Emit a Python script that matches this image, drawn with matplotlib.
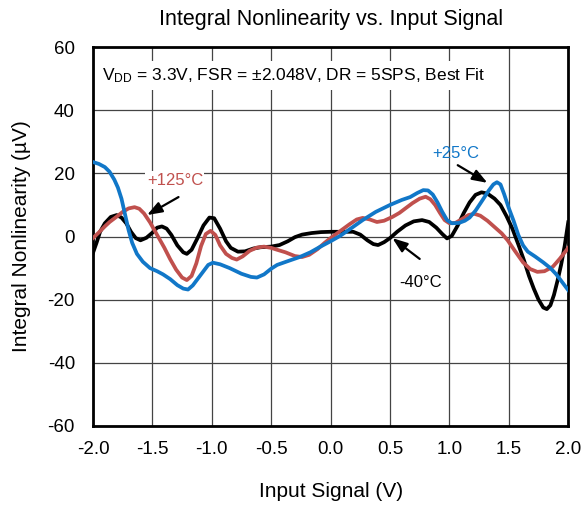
import matplotlib
matplotlib.use('Agg')
import matplotlib.pyplot as plt

plt.rcParams['font.family'] = ['Liberation Sans', 'DejaVu Sans']
plt.rcParams['mathtext.fontset'] = 'custom'
plt.rcParams['mathtext.rm'] = 'Liberation Sans'
plt.rcParams['mathtext.default'] = 'regular'
plt.rcParams['axes.unicode_minus'] = False

# +25°C
v_25 = [-2.0, -1.95, -1.90, -1.86, -1.82, -1.79, -1.76, -1.73, -1.70, -1.67, -1.63, -1.58,
        -1.52, -1.46, -1.41, -1.35, -1.29, -1.24, -1.20, -1.16, -1.12, -1.08, -1.03, -0.99,
        -0.93, -0.85, -0.75, -0.67, -0.62, -0.56, -0.50, -0.45, -0.36, -0.26, -0.17, -0.09,
        0.0, 0.08, 0.18, 0.27, 0.38, 0.50, 0.60, 0.67, 0.73, 0.78, 0.82, 0.86, 0.90, 0.94,
        0.98, 1.02, 1.08, 1.13, 1.17, 1.22, 1.28, 1.33, 1.37, 1.40, 1.43, 1.46, 1.50, 1.54,
        1.58, 1.62, 1.66, 1.72, 1.79, 1.85, 1.90, 1.95, 2.0]
inl_25 = [23.6, 23.0, 22.0, 20.5, 18.0, 15.5, 12.0, 7.0, 2.0, -2.0, -5.5, -8.0,
          -10.0, -11.0, -12.0, -13.5, -15.4, -16.5, -16.8, -15.5, -13.5, -11.5, -9.0, -8.3,
          -8.8, -10.0, -11.8, -12.8, -13.0, -12.0, -10.2, -9.0, -7.8, -6.5, -5.0, -3.3,
          -1.5, 0.2, 2.8, 5.2, 7.8, 10.0, 11.6, 12.5, 13.8, 14.7, 14.6, 13.3, 10.8, 7.8,
          5.2, 4.2, 4.3, 5.0, 6.0, 8.2, 11.6, 14.5, 16.5, 17.2, 16.5, 13.5, 9.0, 5.0,
          0.5, -2.8, -4.8, -6.3, -8.2, -10.0, -12.0, -14.5, -17.0]

# +125°C
v_125 = [-2.0, -1.95, -1.90, -1.86, -1.80, -1.75, -1.70, -1.65, -1.61, -1.57, -1.52, -1.46,
         -1.40, -1.35, -1.30, -1.25, -1.21, -1.17, -1.13, -1.09, -1.05, -1.01, -0.97, -0.93,
         -0.88, -0.83, -0.79, -0.74, -0.68, -0.62, -0.56, -0.50, -0.45, -0.38, -0.30, -0.24,
         -0.18, -0.11, -0.05, 0.0, 0.08, 0.16, 0.22, 0.27, 0.33, 0.39, 0.45, 0.52, 0.58, 0.64,
         0.69, 0.75, 0.80, 0.84, 0.88, 0.92, 0.96, 1.0, 1.05, 1.10, 1.16, 1.21, 1.26, 1.32,
         1.38, 1.44, 1.49, 1.55, 1.62, 1.68, 1.74, 1.80, 1.87, 1.93, 2.0]
inl_125 = [-0.5, 1.3, 3.2, 4.6, 6.3, 7.8, 8.9, 9.3, 8.8, 7.3, 4.5, 0.5,
           -3.5, -7.2, -10.5, -13.0, -13.8, -12.5, -8.5, -3.0, 0.8, 1.8, 0.5, -2.8,
           -5.5, -6.8, -7.3, -6.3, -4.5, -3.5, -3.2, -3.6, -4.2, -5.0, -6.2, -6.5,
           -5.8, -4.0, -2.0, -0.5, 1.7, 3.9, 5.4, 5.9, 5.4, 4.6, 5.0, 6.2, 7.5, 9.2,
           10.6, 12.0, 12.6, 11.8, 10.0, 7.5, 5.2, 4.2, 4.3, 5.4, 6.8, 7.2, 6.6, 5.0,
           3.0, 1.0, -1.2, -4.5, -8.2, -10.3, -11.2, -11.0, -9.6, -7.0, -3.6]

# -40°C
v_m40 = [-2.0, -1.97, -1.94, -1.90, -1.85, -1.80, -1.76, -1.72, -1.68, -1.64, -1.60, -1.55,
         -1.50, -1.46, -1.42, -1.38, -1.34, -1.29, -1.24, -1.21, -1.17, -1.12, -1.07, -1.02,
         -0.98, -0.93, -0.88, -0.84, -0.78, -0.72, -0.65, -0.59, -0.50, -0.43, -0.36, -0.30,
         -0.24, -0.16, -0.08, 0.0, 0.10, 0.19, 0.25, 0.31, 0.36, 0.40, 0.45, 0.50, 0.56, 0.63,
         0.70, 0.77, 0.83, 0.89, 0.94, 0.98, 1.02, 1.07, 1.12, 1.17, 1.22, 1.27, 1.32, 1.38,
         1.43, 1.48, 1.53, 1.58, 1.63, 1.67, 1.71, 1.75, 1.79, 1.82, 1.85, 1.88, 1.91, 1.94,
         1.97, 2.0]
inl_m40 = [-5.2, -2.0, 1.5, 4.2, 6.2, 6.8, 6.0, 4.2, 1.5, -0.5, -1.2, -0.4,
           1.2, 2.8, 3.2, 2.5, 0.5, -2.8, -5.0, -5.5, -4.2, -0.5, 3.5, 6.0,
           5.8, 2.5, -1.5, -3.6, -4.8, -4.7, -3.8, -3.4, -3.2, -2.7, -1.5, -0.2,
           0.6, 1.1, 1.4, 1.5, 1.5, 1.5, 0.6, -1.2, -2.4, -2.7, -1.8, -0.5, 1.5, 3.5,
           4.8, 5.2, 4.6, 2.8, 0.8, -0.6, 0.2, 3.5, 7.4, 10.8, 13.2, 14.0, 13.6, 12.0,
           10.0, 6.5, 2.5, -2.5, -7.8, -12.5, -16.5, -20.0, -22.5, -23.0, -21.8, -18.5, -14.0, -9.0,
           -3.0, 4.5]

x_ticks = [-2.0, -1.5, -1.0, -0.5, 0.0, 0.5, 1.0, 1.5, 2.0]
y_ticks = [-60, -40, -20, 0, 20, 40, 60]

blue = '#1177c8'
red = '#c0504d'

fig = plt.figure(figsize=(5.81, 5.07), dpi=100)
ax = fig.add_axes([0.160, 0.160, 0.818, 0.747])

ax.plot(v_m40, inl_m40, color='black', lw=2.7, zorder=3, solid_joinstyle='round')
ax.plot(v_125, inl_125, color=red, lw=2.7, zorder=4, solid_joinstyle='round')
ax.plot(v_25, inl_25, color=blue, lw=2.7, zorder=5, solid_joinstyle='round')

ax.set_xlim(-2, 2)
ax.set_ylim(-60, 60)
ax.set_xticks(x_ticks)
ax.set_xticklabels([f'{t:.1f}' for t in x_ticks])
ax.set_yticks(y_ticks)
ax.tick_params(length=0, labelsize=13.5)
ax.tick_params(axis='x', pad=11)
ax.tick_params(axis='y', pad=13)
ax.grid(True, color='#444444', lw=0.9, zorder=1)
for s in ax.spines.values():
    s.set_linewidth(2)

ax.set_title('Integral Nonlinearity vs. Input Signal', fontsize=15.5, pad=16)
ax.set_xlabel('Input Signal (V)', fontsize=15, labelpad=17)
ax.set_ylabel('Integral Nonlinearity (µV)', fontsize=15, labelpad=12)

ax.text(-1.92, 51, 'V$_{DD}$ = 3.3V, FSR = ±2.048V, DR = 5SPS, Best Fit', fontsize=12.5,
        va='center', ha='left', zorder=6,
        bbox=dict(facecolor='white', edgecolor='none', pad=4))

arrow = dict(arrowstyle='-|>,head_length=0.6,head_width=0.22', color='black', lw=1.6,
             shrinkA=0, shrinkB=0, mutation_scale=15)
ax.annotate('', xy=(-1.545, 6.8), xytext=(-1.28, 12.5), arrowprops=arrow, zorder=7)
ax.annotate('', xy=(1.32, 17), xytext=(1.07, 22.6), arrowprops=arrow, zorder=7)
ax.annotate('', xy=(0.52, -0.5), xytext=(0.75, -7.1), arrowprops=arrow, zorder=7)

ax.text(-1.31, 17.9, '+125°C', color=red, fontsize=12, ha='center', va='center', zorder=6,
        bbox=dict(facecolor='white', edgecolor='none', pad=1))
ax.text(1.05, 26.4, '+25°C', color=blue, fontsize=12, ha='center', va='center', zorder=6)
ax.text(0.76, -14.7, '-40°C', color='black', fontsize=12, ha='center', va='center', zorder=6)

fig.savefig('out.png', dpi=100)
